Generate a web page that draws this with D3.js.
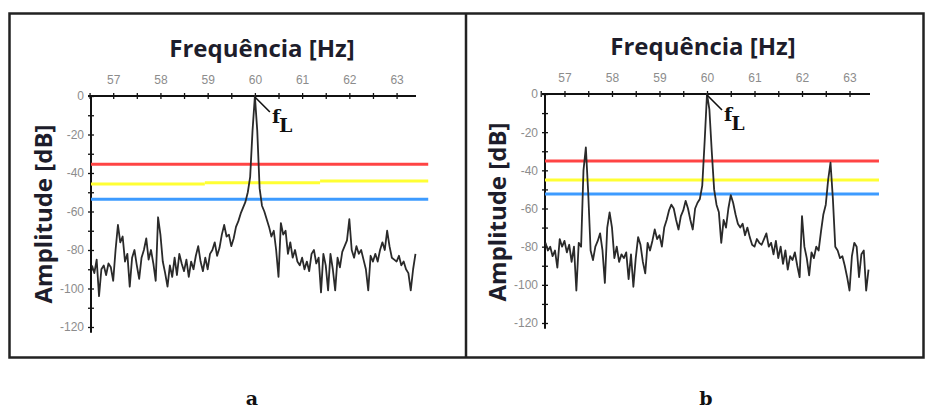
<!DOCTYPE html>
<html>
<head>
<meta charset="utf-8">
<script src="https://cdn.jsdelivr.net/npm/d3@7"></script>
<style>
  body { margin: 0; background: #fff; }
  svg { display: block; }
</style>
</head>
<body>
<div id="chart"></div>
<script>
// tick values
var freqTicks = [56.5, 57, 57.5, 58, 58.5, 59, 59.5, 60, 60.5, 61, 61.5, 62, 62.5, 63];
var freqLabels = [57, 58, 59, 60, 61, 62, 63];
var ampTicks = [0, -10, -20, -30, -40, -50, -60, -70, -80, -90, -100, -110, -120];
var ampLabels = [0, -20, -40, -60, -80, -100, -120];

// spectrum a : bins of 0.05 Hz starting at 56.55 Hz
var startA = 56.55;
var ampA = [
  -88, -92, -85, -104, -90, -88, -93, -87, -89, -96,
  -80, -67, -76, -73, -86, -82, -99, -84, -80, -88,
  -95, -84, -80, -74, -85, -80, -87, -96, -63, -72,
  -86, -92, -99, -88, -94, -84, -93, -82, -87, -91,
  -85, -94, -86, -90, -83, -78, -86, -91, -84, -90,
  -82, -80, -76, -83, -79, -72, -67, -73, -72, -78,
  -74, -68, -65, -61, -58, -55, -50, -42, -18, 0,
  -18, -48, -57, -60, -64, -68, -73, -70, -80, -94,
  -66, -72, -70, -82, -76, -84, -80, -86, -88, -84,
  -90, -86, -91, -82, -80, -87, -84, -102, -82, -88,
  -101, -82, -90, -101, -84, -89, -81, -78, -75, -64,
  -80, -84, -78, -82, -80, -85, -90, -101, -83, -86,
  -82, -86, -80, -76, -80, -70, -78, -84, -85, -86,
  -83, -88, -86, -90, -92, -101, -90, -82
];

// spectrum b : bins of 0.05 Hz starting at 56.60 Hz
var startB = 56.60;
var ampB = [
  -78, -82, -80, -85, -82, -91, -76, -80, -77, -83,
  -79, -88, -80, -103, -78, -80, -40, -28, -52, -82,
  -87, -80, -77, -73, -82, -99, -70, -62, -70, -86,
  -80, -88, -84, -86, -83, -97, -84, -101, -86, -75,
  -79, -88, -94, -78, -82, -77, -71, -76, -74, -80,
  -70, -66, -61, -58, -60, -66, -71, -64, -61, -56,
  -60, -66, -71, -60, -57, -55, -48, -25, 0, -8,
  -30, -50, -58, -62, -78, -66, -70, -60, -53, -57,
  -63, -68, -70, -68, -74, -70, -75, -79, -80, -76,
  -78, -79, -76, -73, -80, -78, -84, -77, -86, -80,
  -89, -82, -92, -85, -87, -83, -90, -96, -64, -80,
  -86, -95, -83, -86, -80, -82, -72, -63, -58, -45,
  -36, -55, -80, -82, -86, -85, -90, -96, -103, -85,
  -78, -80, -96, -84, -82, -103, -92
];

// threshold levels [from Hz, to Hz, dB]
var redA = [[56.53, 63.67, -35.5]];
var yellowA = [[56.53, 58.94, -45.7], [58.94, 61.38, -45.0], [61.38, 63.67, -44.2]];
var blueA = [[56.53, 63.67, -53.6]];
var redB = [[56.59, 63.62, -35.1]];
var yellowB = [[56.59, 63.62, -45.1]];
var blueB = [[56.59, 63.62, -52.4]];

var panelLetters = ["a", "b"];

var W = 926, H = 408;
var svg = d3.select("#chart").append("svg")
    .attr("width", W)
    .attr("height", H);

// outer frame and divider
svg.append("rect")
    .attr("x", 9.5).attr("y", 13.5)
    .attr("width", 914).attr("height", 344)
    .attr("fill", "none")
    .attr("stroke", "#222")
    .attr("stroke-width", 2.5);
svg.append("line")
    .attr("x1", 466).attr("x2", 466)
    .attr("y1", 13).attr("y2", 358)
    .attr("stroke", "#222")
    .attr("stroke-width", 2.5);

function bins(start, amps) {
  return amps.map(function(a, i) { return { f: start + 0.05 * i, a: a }; });
}

function drawPanel(p) {
  var x = d3.scaleLinear().domain(p.fDomain).range(p.xRange);
  var y = d3.scaleLinear().domain([0, -120]).range(p.yRange);
  var g = svg.append("g");

  // titles
  g.append("text")
      .attr("x", p.titleX).attr("y", p.titleY)
      .attr("text-anchor", "middle")
      .style("font-family", "'Open Sans', sans-serif")
      .style("font-weight", "bold")
      .style("font-size", "24px")
      .style("fill", "#1d1d2b")
      .text("Frequência [Hz]");

  g.append("text")
      .attr("transform", "translate(" + p.ylabX + "," + p.ylabY + ") rotate(-90)")
      .attr("text-anchor", "middle")
      .style("font-family", "'Open Sans', sans-serif")
      .style("font-weight", "bold")
      .style("font-size", "24px")
      .style("fill", "#1d1d2b")
      .text("Amplitude [dB]");

  // x axis on top
  var xAxis = d3.axisTop(x)
      .tickValues(freqTicks)
      .tickSize(3)
      .tickPadding(9)
      .tickFormat(function(d) { return freqLabels.indexOf(d) >= 0 ? d : ""; });
  var gx = g.append("g")
      .attr("transform", "translate(0," + y(0) + ")")
      .call(xAxis);
  gx.select(".domain").remove();
  gx.append("line")
      .attr("x1", x.range()[0] - 3).attr("x2", x.range()[1] + 1)
      .attr("stroke", "#111").attr("stroke-width", 2);
  gx.selectAll(".tick line").attr("y1", -3).attr("y2", 3).attr("stroke", "#111").attr("stroke-width", 1.3);

  // y axis
  var yAxis = d3.axisLeft(y)
      .tickValues(ampTicks)
      .tickSize(3)
      .tickPadding(4)
      .tickFormat(function(d) { return ampLabels.indexOf(d) >= 0 ? d : ""; });
  var gy = g.append("g")
      .attr("transform", "translate(" + x.range()[0] + ",0)")
      .call(yAxis);
  gy.select(".domain").remove();
  gy.append("line")
      .attr("y1", y(0)).attr("y2", y(-123))
      .attr("stroke", "#111").attr("stroke-width", 2);
  gy.selectAll(".tick line").attr("x1", -3).attr("x2", 3).attr("stroke", "#111").attr("stroke-width", 1.3);

  [gx, gy].forEach(function(a) {
    a.selectAll(".tick text")
        .style("font-family", "'Liberation Sans Narrow', 'Liberation Sans', sans-serif")
        .style("font-size", "12px")
        .style("fill", "#8c8c8c");
  });

  // threshold lines
  var levels = [[p.red, "#ff4444"], [p.yellow, "#ffff33"], [p.blue, "#3d9bff"]];
  levels.forEach(function(l) {
    g.selectAll(null).data(l[0]).enter().append("line")
        .attr("x1", function(d) { return x(d[0]); })
        .attr("x2", function(d) { return x(d[1]); })
        .attr("y1", function(d) { return y(d[2]); })
        .attr("y2", function(d) { return y(d[2]); })
        .attr("stroke", l[1])
        .attr("stroke-width", 3);
  });

  // spectrum trace
  var line = d3.line()
      .x(function(d) { return x(d.f); })
      .y(function(d) { return y(d.a); });
  g.append("path")
      .datum(p.data)
      .attr("d", line)
      .attr("fill", "none")
      .attr("stroke", "#2a2a2a")
      .attr("stroke-width", 1.8)
      .attr("stroke-linejoin", "round");

  // f_L annotation at the 60 Hz peak
  var px = x(60), py = y(0);
  g.append("line")
      .attr("x1", px).attr("y1", py + 1)
      .attr("x2", px + 15).attr("y2", py + 16)
      .attr("stroke", "#111").attr("stroke-width", 1.6);
  var t = g.append("text")
      .attr("x", px + 17).attr("y", py + 27)
      .style("font-family", "'DejaVu Serif', serif")
      .style("font-weight", "bold")
      .style("font-size", "19px")
      .style("fill", "#111");
  t.append("tspan").text("f");
  t.append("tspan").attr("dy", 9).attr("dx", -1).text("L");

  // panel letter
  svg.append("text")
      .attr("x", p.letterX).attr("y", 405)
      .attr("text-anchor", "middle")
      .style("font-family", "'DejaVu Serif', serif")
      .style("font-weight", "bold")
      .style("font-size", "19px")
      .style("fill", "#111")
      .text(p.letter);
}

drawPanel({
  data: bins(startA, ampA),
  fDomain: [56.53, 63.39], xRange: [91, 415], yRange: [96, 327],
  red: redA, yellow: yellowA, blue: blueA,
  titleX: 262, titleY: 57, ylabX: 52, ylabY: 214,
  letter: panelLetters[0], letterX: 252
});

drawPanel({
  data: bins(startB, ampB),
  fDomain: [56.59, 63.41], xRange: [545, 869], yRange: [94, 323],
  red: redB, yellow: yellowB, blue: blueB,
  titleX: 703, titleY: 55, ylabX: 506, ylabY: 212,
  letter: panelLetters[1], letterX: 706
});
</script>
</body>
</html>
